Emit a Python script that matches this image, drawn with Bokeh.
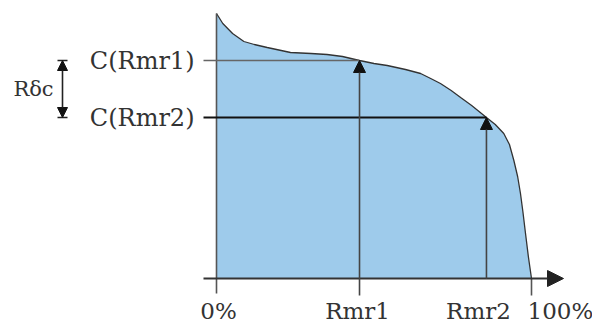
from bokeh.plotting import figure
from bokeh.models import Arrow, NormalHead, Range1d
from bokeh.embed import file_html
from bokeh.resources import INLINE
from bokeh.core.properties import value

# ---- data (material ratio curve) ----
mr_pct = [0, 2.0, 5.1, 8.7, 12.0, 16.1, 23.5, 30.0, 35.1, 40.0, 45.4, 50.0, 54.2, 60.0,
          64.8, 68.0, 71.1, 74.5, 77.5, 81.0, 85.7, 88.5, 91.2, 93.0, 94.4, 95.6,
          96.5, 97.3, 98.1, 99.0, 100.0]
height = [265, 255, 245, 237, 234, 231, 226, 225, 224, 222, 218, 215, 213, 209,
          205, 200, 195, 188, 181, 173, 161, 154, 145, 134, 118, 102,
          85, 66, 45, 22, 0]
rmr = [45.4, 85.7]
c_levels = [218, 161]
c_labels = ["C(Rmr1)", "C(Rmr2)"]
x_tick_labels = ["0%", "Rmr1", "Rmr2", "100%"]
delta_label = "R\u03b4c"

W, H = 592, 324
X0_PX, Y0_PX = 216, 278
PX_PER_PCT = 3.15


def px(d):
    return d / PX_PER_PCT


p = figure(width=W, height=H, output_backend="svg", toolbar_location=None,
           x_range=Range1d(-X0_PX / PX_PER_PCT, (W - X0_PX) / PX_PER_PCT),
           y_range=Range1d(-(H - Y0_PX), Y0_PX),
           x_axis_type=None, y_axis_type=None, min_border=0)
p.outline_line_color = None
p.background_fill_color = "white"

FONT = value("DejaVu Serif")

# filled area + outline
p.varea(x=mr_pct, y1=0, y2=height, fill_color="#9ecbeb")
p.line(mr_pct, height, line_color="#333333", line_width=1.3)

# vertical axis line
p.segment(x0=[0], y0=[-15], x1=[0], y1=[height[0]], line_color="#555555", line_width=1.6)
# 100% tick
p.segment(x0=[100], y0=[-17], x1=[100], y1=[0], line_color="#555555", line_width=1.6)

# horizontal levels
p.segment(x0=[px(-13)], y0=[c_levels[0]], x1=[rmr[0]], y1=[c_levels[0]],
          line_color="#666666", line_width=1.6)
p.segment(x0=[px(-13)], y0=[c_levels[1]], x1=[rmr[1]], y1=[c_levels[1]],
          line_color="#111111", line_width=2)

# horizontal axis arrow
p.add_layout(Arrow(end=NormalHead(size=16, fill_color="#222222", line_color="#222222"),
                   x_start=px(-13), y_start=0, x_end=px(347), y_end=0,
                   line_color="#333333", line_width=2))

# vertical arrows
p.add_layout(Arrow(end=NormalHead(size=12, fill_color="#111111", line_color="#111111"),
                   x_start=rmr[0], y_start=-17, x_end=rmr[0], y_end=c_levels[0],
                   line_color="#444444", line_width=1.6))
p.add_layout(Arrow(end=NormalHead(size=12, fill_color="#111111", line_color="#111111"),
                   x_start=rmr[1], y_start=0, x_end=rmr[1], y_end=c_levels[1],
                   line_color="#444444", line_width=1.6))

# R delta c double arrow
xd = px(-154)
p.add_layout(Arrow(start=NormalHead(size=10, fill_color="#111111", line_color="#111111"),
                   end=NormalHead(size=10, fill_color="#111111", line_color="#111111"),
                   x_start=xd, y_start=c_levels[1], x_end=xd, y_end=c_levels[0],
                   line_color="#222222", line_width=1.6))
p.segment(x0=[xd - px(5)] * 2, y0=c_levels, x1=[xd + px(5)] * 2, y1=c_levels,
          line_color="#222222", line_width=1.6)

# labels
p.text(x=[px(-22)] * 2, y=c_levels, text=c_labels, text_align="right",
       text_baseline="middle", text_font=FONT, text_font_size="24px",
       text_color="#333333")
p.text(x=[px(-183)], y=[(c_levels[0] + c_levels[1]) / 2], text=[delta_label],
       text_align="center", text_baseline="middle", text_font=FONT,
       text_font_size="21px", text_color="#333333")

p.text(x=[0, rmr[0], rmr[1]], y=[0, 0, 0], text=x_tick_labels[:3],
       x_offset=[2, -2, -8], y_offset=19, text_align="center", text_baseline="top",
       text_font=FONT, text_font_size="23px", text_color="#333333")
p.text(x=[100], y=[0], text=[x_tick_labels[3]], x_offset=-4, y_offset=19,
       text_align="left", text_baseline="top", text_font=FONT,
       text_font_size="23px", text_color="#333333")

open("out.html", "w").write(file_html(p, INLINE))
